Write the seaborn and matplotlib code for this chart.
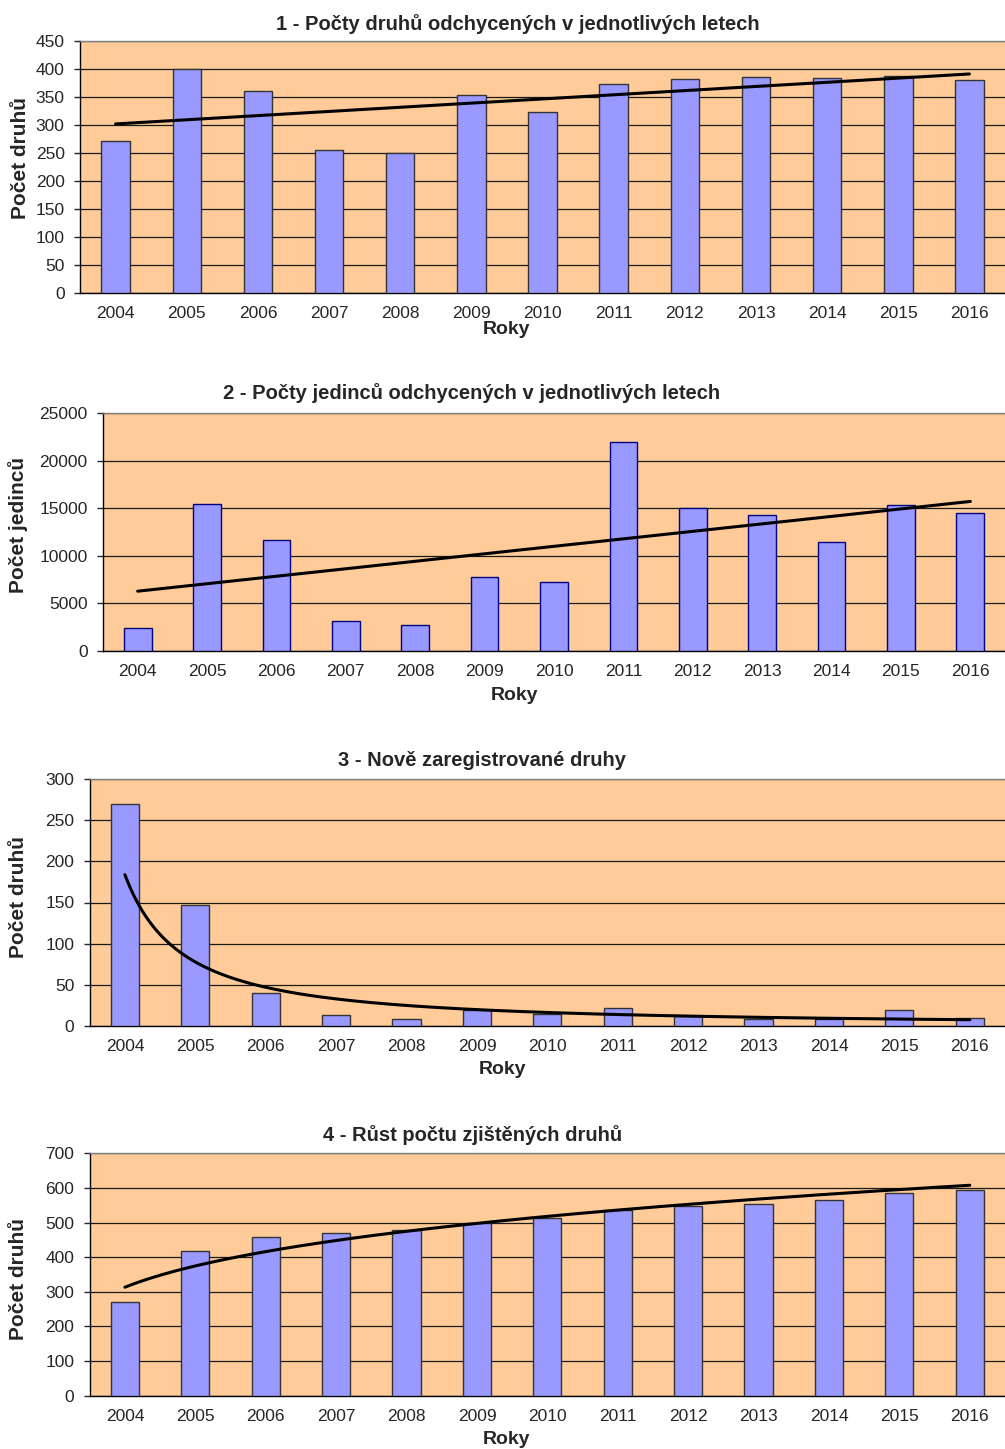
import numpy as np
import pandas as pd
import seaborn as sns
import matplotlib.pyplot as plt

# data
years = [str(y) for y in range(2004, 2017)]
druhy = [272, 399, 360, 255, 250, 354, 323, 372, 381, 385, 383, 387, 380]
jedinci = [2400, 15400, 11700, 3200, 2700, 7800, 7250, 22000, 15000, 14300, 11400, 15300, 14500]
nove = [270, 147, 40, 13, 9, 19, 15, 22, 12, 9, 8, 19, 10]
kumul = [270, 417, 457, 470, 479, 498, 514, 535, 548, 555, 564, 586, 595]

titles = ['1 - Počty druhů odchycených v jednotlivých letech',
          '2 - Počty jedinců odchycených v jednotlivých letech',
          '3 - Nově zaregistrované druhy',
          '4 - Růst počtu zjištěných druhů']
ylabels = ['Počet druhů', 'Počet jedinců', 'Počet druhů', 'Počet druhů']

sns.set_style('white')
plt.rcParams['font.family'] = ['Liberation Sans', 'DejaVu Sans']

W, H = 1005, 1449
fig = plt.figure(figsize=(W / 100, H / 100), dpi=100)

# pixel boxes: left, top, bottom
boxes = [(80, 40.7, 293.3), (103, 413, 651), (89.7, 779, 1026), (89.7, 1153.3, 1395.7)]
title_pos = [(518, 24), (472, 393), (482, 760), (473, 1135)]
ylab_pos = [(21, 158), (18, 525), (18, 897), (18, 1279)]
roky_pos = [(506, 329), (514, 695), (502.5, 1070), (506, 1440)]
ylims = [(0, 450, 50), (0, 25000, 5000), (0, 300, 50), (0, 700, 100)]
edges = ['#333333', '#000080', '#333333', '#333333']
series = [druhy, jedinci, nove, kumul]
trend = ['lin', 'lin', 'pow', 'pow']

for i in range(4):
    l, t, b = boxes[i]
    ax = fig.add_axes([l / W, 1 - b / H, (W - l) / W, (b - t) / H])
    ax.set_facecolor('#FFCC99')
    df = pd.DataFrame({'rok': years, 'hodnota': series[i]})
    sns.barplot(data=df, x='rok', y='hodnota', color='#9999FF', saturation=1,
                width=0.4, edgecolor=edges[i], linewidth=1, ax=ax, zorder=3)

    # trendline like Excel
    y = np.array(series[i], dtype=float)
    xs = np.arange(1, 14)
    if trend[i] == 'lin':
        k, q = np.polyfit(xs, y, 1)
        xf = np.linspace(1, 13, 50)
        yf = k * xf + q
    else:
        k, q = np.polyfit(np.log(xs), np.log(y), 1)
        xf = np.linspace(1, 13, 300)
        yf = np.exp(q) * xf ** k
    sns.lineplot(x=xf - 1, y=yf, color='black', linewidth=2.2, ax=ax, zorder=4)

    lo, hi, st = ylims[i]
    ax.set_ylim(lo, hi)
    ax.set_yticks(np.arange(lo, hi + st, st))
    ax.set_xlim(-0.5, 12.5)
    ax.yaxis.grid(True, color='#1a1a1a', linewidth=0.9)
    ax.set_axisbelow(True)
    ax.set_xlabel('')
    ax.set_ylabel('')
    ax.set_xticks(np.arange(-0.5, 13, 1), minor=True)
    ax.tick_params(axis='x', which='major', length=0, pad=9.5, labelsize=12.5)
    ax.tick_params(axis='x', which='minor', length=4, width=1, direction='out', color='black')
    ax.tick_params(axis='y', length=4, width=1, direction='out', pad=7, labelsize=12.5, left=True)
    for s in ['left', 'bottom']:
        ax.spines[s].set_color('black')
        ax.spines[s].set_linewidth(1)
    ax.spines['top'].set_color('#808080')
    ax.spines['top'].set_linewidth(1)
    ax.spines['right'].set_visible(False)

    tx, ty = title_pos[i]
    fig.text(tx / W, 1 - ty / H, titles[i], ha='center', va='center', fontsize=14.5, fontweight='bold')
    yx, yy = ylab_pos[i]
    fig.text(yx / W, 1 - yy / H, ylabels[i], ha='center', va='center', rotation=90,
             fontsize=15, fontweight='bold')
    rx, ry = roky_pos[i]
    fig.text(rx / W, 1 - ry / H, 'Roky', ha='center', va='center', fontsize=14, fontweight='bold')

fig.savefig('out.png', dpi=100)
